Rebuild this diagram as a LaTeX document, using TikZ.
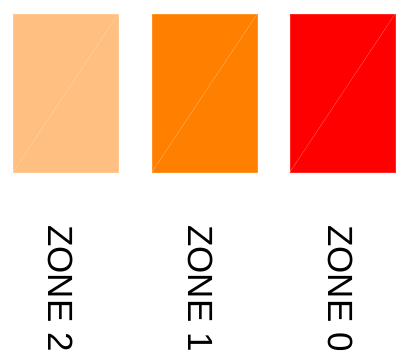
\documentclass[tikz,border=0pt]{standalone}
\usepackage{fontspec}
\setmainfont{Liberation Sans}
\definecolor{zTwo}{HTML}{FFBF80}
\definecolor{zOne}{HTML}{FF8000}
\definecolor{zZero}{HTML}{FF0000}
\tikzset{
  zonebox/.style={draw=#1!85!white, line width=0.4pt, fill=#1, minimum width=105pt, minimum height=158pt, inner sep=0pt},
  diag/.style={draw=white, draw opacity=0.35, line width=0.4pt},
  zonelabel/.style={rotate=-90, anchor=base west, inner sep=0pt, font=\fontsize{35}{42}\selectfont}
}
\begin{document}
\begin{tikzpicture}[x=1pt,y=-1pt]
\useasboundingbox (0,0) rectangle (414,360);
\node[zonebox=zTwo] (r2) at (65.5,93) {};
\node[zonebox=zOne] (r1) at (204.5,93) {};
\node[zonebox=zZero] (r0) at (342.5,93) {};
\draw[diag] (r2.south west) -- (r2.north east);
\draw[diag] (r1.south west) -- (r1.north east);
\draw[diag] (r0.south west) -- (r0.north east);
\node[zonelabel] (t2) at (48,225) {ZONE 2};
\node[zonelabel] (t1) at (188,225) {ZONE 1};
\node[zonelabel] (t0) at (328,225) {ZONE 0};
\end{tikzpicture}
\end{document}
